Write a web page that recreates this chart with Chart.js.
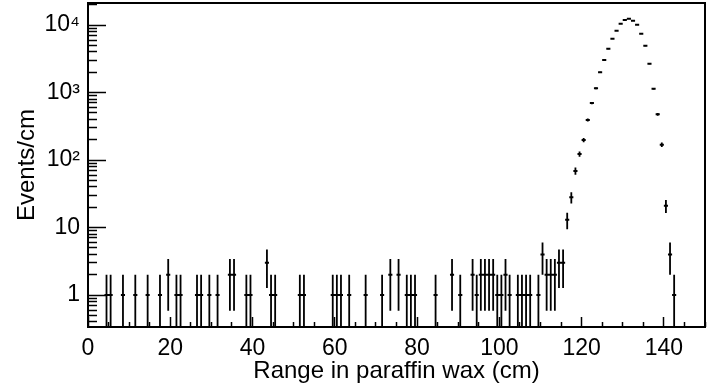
<!DOCTYPE html>
<html>
<head>
<meta charset="utf-8">
<script src="https://cdn.jsdelivr.net/npm/chart.js@4/dist/chart.umd.min.js"></script>
<style>
html,body{margin:0;padding:0;background:#ffffff;}
canvas{display:block;}
</style>
</head>
<body>
<canvas id="c" width="722" height="387"></canvas>
<script>
// ---- data (bin centres in cm, 1 cm bins) ----
const rangeCm = [
  4.5, 5.5, 8.5, 11.5, 14.5, 17.5, 19.5, 21.5, 22.5, 26.5,
  27.5, 29.5, 31.5, 34.5, 35.5, 38.5, 39.5, 43.5, 44.5, 45.5,
  51.5, 52.5, 59.5, 60.5, 61.5, 63.5, 67.5, 71.5, 73.5, 75.5,
  77.5, 78.5, 79.5, 84.5, 88.5, 90.5, 93.5, 94.5, 95.5, 96.5,
  97.5, 98.5, 99.5, 100.5, 101.5, 102.5, 104.5, 105.5, 106.5, 107.5,
  109.5, 110.5, 111.5, 112.5, 113.5, 114.5, 115.5,
  116.5, 117.5, 118.5, 119.5, 120.5, 121.5, 122.5, 123.5, 124.5, 125.5,
  126.5, 127.5, 128.5, 129.5, 130.5, 131.5, 132.5, 133.5, 134.5, 135.5,
  136.5, 137.5, 138.5, 139.5, 140.5, 141.5, 142.5
];
const eventsPerCm = [
  1, 1, 1, 1, 1, 1, 2, 1, 1, 1,
  1, 1, 1, 2, 2, 1, 1, 3, 1, 1,
  1, 1, 1, 1, 1, 1, 1, 1, 2, 2,
  1, 1, 1, 1, 2, 1, 2, 1, 2, 2,
  2, 2, 1, 1, 2, 1, 1, 1, 1, 1,
  1, 4, 2, 2, 2, 3, 3,
  13, 28, 69, 123, 198, 391, 699, 1153, 1995, 3030,
  4450, 6270, 8240, 10450, 11860, 12400, 11580, 10100, 7430, 4930,
  2670, 1138, 475, 169, 21, 4, 1
];
const binWidthCm = 1;

// ---- axes ----
const xTickValues = [0, 20, 40, 60, 80, 100, 120, 140];
const xTickLabels = ['0', '20', '40', '60', '80', '100', '120', '140'];
const yTickValues = [1, 10, 100, 1000, 10000];
const yTickLabels = ['1', '10', '10\u00B2', '10\u00B3', '10\u2074'];
const xTitle = 'Range in paraffin wax (cm)';
const yTitle = 'Events/cm';
const X_MIN = 0, X_MAX = 150;
const Y_MIN = 0.336, Y_MAX = 21200;

const xMinorTicks = [];
for (let v = 5; v <= X_MAX; v += 5) if (v % 20 !== 0) xMinorTicks.push(v);
const yMinorTicks = [];
[0.1, 1, 10, 100, 1000, 10000].forEach(d => {
  for (let k = 2; k <= 9; k++) { const v = k * d; if (v >= Y_MIN && v <= Y_MAX) yMinorTicks.push(v); }
});

// ---- error-bar segments (Poisson errors) ----
const vertSegs = [];
const horizSegs = [];
rangeCm.forEach((c, i) => {
  const n = eventsPerCm[i];
  const e = Math.sqrt(n);
  const lo = n - e > 0 ? n - e : Y_MIN * 0.01;
  vertSegs.push({x: c, y: lo}, {x: c, y: n + e}, {x: c, y: null});
  horizSegs.push({x: c - binWidthCm / 2, y: n}, {x: c + binWidthCm / 2, y: n}, {x: c, y: null});
});

const FONT = "'Liberation Sans', Arial, Helvetica, sans-serif";
const BLACK = '#000000';
function zeroPad(s) { s.paddingTop = 0; s.paddingBottom = 0; s.paddingLeft = 0; s.paddingRight = 0; }

new Chart(document.getElementById('c'), {
  type: 'line',
  data: {
    datasets: [
      {data: vertSegs, borderColor: BLACK, borderWidth: 1.8, pointRadius: 0, spanGaps: false, fill: false, xAxisID: 'x', yAxisID: 'y'},
      {data: horizSegs, borderColor: BLACK, borderWidth: 2, pointRadius: 0, spanGaps: false, fill: false, xAxisID: 'x', yAxisID: 'y'}
    ]
  },
  options: {
    responsive: false,
    animation: false,
    devicePixelRatio: 1,
    layout: {padding: {left: 0, top: 3, right: 17, bottom: 0}},
    plugins: {legend: {display: false}, tooltip: {enabled: false}, title: {display: false}},
    scales: {
      x: {
        type: 'linear', position: 'bottom', weight: 1, min: X_MIN, max: X_MAX, bounds: 'data',
        afterBuildTicks: s => { s.ticks = xTickValues.map(v => ({value: v})); },
        afterFit: s => { s.height = 60; zeroPad(s); },
        ticks: {autoSkip: false, maxRotation: 0, color: BLACK, padding: 18,
          font: {family: FONT, size: 23},
          callback: v => xTickLabels[xTickValues.indexOf(v)]},
        grid: {drawOnChartArea: false, drawTicks: true, tickLength: -10, tickWidth: 1.5, tickColor: BLACK},
        border: {display: true, color: BLACK, width: 2},
        title: {display: true, text: xTitle, color: BLACK, font: {family: FONT, size: 24}, padding: {top: 0, bottom: 1}}
      },
      xMinor: {
        type: 'linear', position: 'bottom', weight: 0, min: X_MIN, max: X_MAX, bounds: 'data',
        afterBuildTicks: s => { s.ticks = xMinorTicks.map(v => ({value: v})); },
        afterFit: s => { s.height = 0; zeroPad(s); },
        ticks: {display: false},
        grid: {drawOnChartArea: false, drawTicks: true, tickLength: -5, tickWidth: 1.5, tickColor: BLACK},
        border: {display: false}
      },
      xTop: {
        type: 'linear', position: 'top', min: X_MIN, max: X_MAX, bounds: 'data',
        afterFit: s => { s.height = 0; zeroPad(s); },
        ticks: {display: false},
        grid: {display: false, drawTicks: false},
        border: {display: true, color: BLACK, width: 2}
      },
      y: {
        type: 'logarithmic', position: 'left', weight: 1, min: Y_MIN, max: Y_MAX, bounds: 'data',
        afterBuildTicks: s => { s.ticks = yTickValues.map(v => ({value: v})); },
        afterFit: s => { s.width = 88; zeroPad(s); },
        ticks: {autoSkip: false, color: BLACK, padding: 26,
          font: {family: FONT, size: 23},
          callback: v => yTickLabels[yTickValues.indexOf(v)]},
        grid: {drawOnChartArea: false, drawTicks: true, tickLength: -18, tickWidth: 1.5, tickColor: BLACK},
        border: {display: true, color: BLACK, width: 2},
        title: {display: true, text: yTitle, color: BLACK, font: {family: FONT, size: 24}, padding: {top: 13, bottom: 0}}
      },
      yMinor: {
        type: 'logarithmic', position: 'left', weight: 0, min: Y_MIN, max: Y_MAX, bounds: 'data',
        afterBuildTicks: s => { s.ticks = yMinorTicks.map(v => ({value: v})); },
        afterFit: s => { s.width = 0; zeroPad(s); },
        ticks: {display: false},
        grid: {drawOnChartArea: false, drawTicks: true, tickLength: -9, tickWidth: 1.5, tickColor: BLACK},
        border: {display: false}
      },
      yRight: {
        type: 'logarithmic', position: 'right', min: Y_MIN, max: Y_MAX, bounds: 'data',
        afterFit: s => { s.width = 0; zeroPad(s); },
        ticks: {display: false},
        grid: {display: false, drawTicks: false},
        border: {display: true, color: BLACK, width: 2}
      }
    }
  }
});
</script>
</body>
</html>
